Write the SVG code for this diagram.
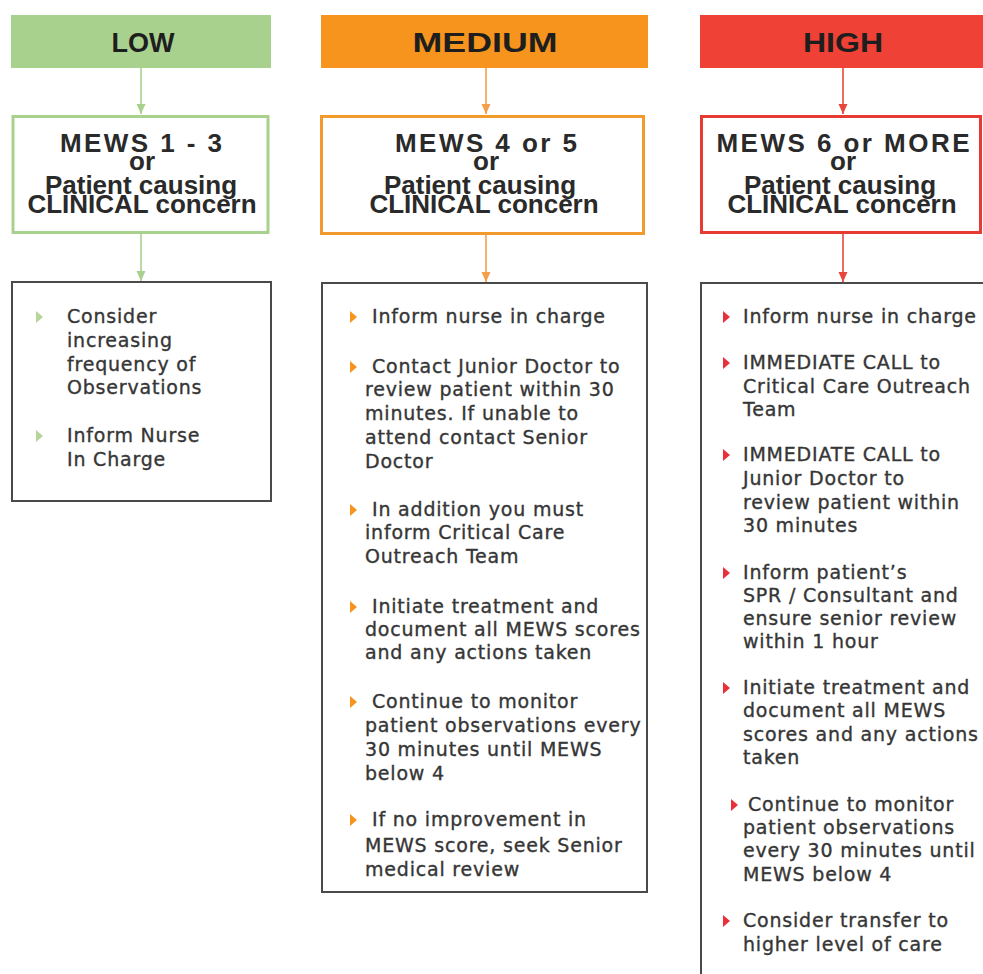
<svg xmlns="http://www.w3.org/2000/svg" width="983" height="974" viewBox="0 0 983 974">
<style>
.hdr{font-family:"Liberation Sans",Arial,sans-serif;font-weight:bold;font-size:27px;fill:#1e1e1e;text-anchor:middle}
.mews{font-family:"Liberation Sans",Arial,sans-serif;font-weight:bold;font-size:26px;fill:#2a2a2a;text-anchor:middle}
.act{font-family:"DejaVu Sans",Verdana,sans-serif;font-size:19px;letter-spacing:0.8px;fill:#363636;stroke:#363636;stroke-width:0.35px}
.box{fill:#fff;stroke:#4a4a4a;stroke-width:2}
.g-fill{fill:#a9d18e}.o-fill{fill:#f7941d}.r-fill{fill:#ef4136}
.g-str{fill:#fff;stroke:#a9d18e;stroke-width:3}
.o-str{fill:#fff;stroke:#f39a2c;stroke-width:3}
.r-str{fill:#fff;stroke:#e53b33;stroke-width:3}
.cg{stroke:#a9d18e;stroke-width:1.6;fill:none}
.co{stroke:#f4a04a;stroke-width:1.6;fill:none}
.cr{stroke:#e8473f;stroke-width:1.6;fill:none}
.bg{fill:#b5d59b}.bo{fill:#f7941d}.br{fill:#e8303a}
</style>
<defs>
<marker id="ag" markerUnits="userSpaceOnUse" markerWidth="10" markerHeight="10" refX="10" refY="4.5" orient="auto"><path d="M0,0 L10,4.5 L0,9 z" fill="#a9d18e"/></marker>
<marker id="ao" markerUnits="userSpaceOnUse" markerWidth="10" markerHeight="10" refX="10" refY="4.5" orient="auto"><path d="M0,0 L10,4.5 L0,9 z" fill="#f4a04a"/></marker>
<marker id="ar" markerUnits="userSpaceOnUse" markerWidth="10" markerHeight="10" refX="10" refY="4.5" orient="auto"><path d="M0,0 L10,4.5 L0,9 z" fill="#e8473f"/></marker>
<path id="tri" d="M0,-6 L7,0 L0,6 z"/>
</defs>

<g id="connectors">
<line class="cg" x1="141" y1="68" x2="141" y2="114" marker-end="url(#ag)"/>
<line class="cg" x1="141" y1="234" x2="141" y2="281" marker-end="url(#ag)"/>
<line class="co" x1="486" y1="68" x2="486" y2="114" marker-end="url(#ao)"/>
<line class="co" x1="486" y1="235" x2="486" y2="282" marker-end="url(#ao)"/>
<line class="cr" x1="843" y1="68" x2="843" y2="114" marker-end="url(#ar)"/>
<line class="cr" x1="843" y1="234" x2="843" y2="282" marker-end="url(#ar)"/>
</g>

<g id="header-low">
<rect class="g-fill" x="11" y="15" width="260" height="53"/>
<text class="hdr" x="143" y="52" textLength="63" lengthAdjust="spacingAndGlyphs">LOW</text>
</g>
<g id="header-medium">
<rect class="o-fill" x="321" y="15" width="327" height="53"/>
<text class="hdr" x="485" y="52" textLength="145" lengthAdjust="spacingAndGlyphs">MEDIUM</text>
</g>
<g id="header-high">
<rect class="r-fill" x="700" y="15" width="290" height="53"/>
<text class="hdr" x="843" y="52" textLength="80" lengthAdjust="spacingAndGlyphs">HIGH</text>
</g>

<g id="mews-low">
<rect class="g-str" x="13" y="116.5" width="255" height="116"/>
<text class="mews"><tspan x="141" y="152" textLength="162">MEWS 1 - 3</tspan><tspan x="142" y="170">or</tspan><tspan x="141" y="194">Patient causing</tspan><tspan x="142" y="213">CLINICAL concern</tspan></text>
</g>
<g id="mews-medium">
<rect class="o-str" x="321.5" y="116.5" width="322" height="117"/>
<text class="mews"><tspan x="486" y="152" textLength="182">MEWS 4 or 5</tspan><tspan x="486" y="170">or</tspan><tspan x="480" y="194">Patient causing</tspan><tspan x="484" y="213">CLINICAL concern</tspan></text>
</g>
<g id="mews-high">
<rect class="r-str" x="701.5" y="116.5" width="279" height="116"/>
<text class="mews"><tspan x="843" y="152" textLength="253">MEWS 6 or MORE</tspan><tspan x="843" y="170">or</tspan><tspan x="840" y="194">Patient causing</tspan><tspan x="842" y="213">CLINICAL concern</tspan></text>
</g>

<g id="actions-low">
<rect class="box" x="12" y="282" width="259" height="219"/>
<use href="#tri" class="bg" x="36" y="317"/>
<use href="#tri" class="bg" x="36" y="436"/>
<text class="act"><tspan x="67" y="323">Consider</tspan><tspan x="67" y="347">increasing</tspan><tspan x="67" y="371">frequency of</tspan><tspan x="67" y="394">Observations</tspan><tspan x="67" y="442">Inform Nurse</tspan><tspan x="67" y="466">In Charge</tspan></text>
</g>

<g id="actions-medium">
<rect class="box" x="322" y="283" width="325" height="609"/>
<use href="#tri" class="bo" x="350" y="317"/>
<use href="#tri" class="bo" x="350" y="367"/>
<use href="#tri" class="bo" x="350" y="510"/>
<use href="#tri" class="bo" x="350" y="607"/>
<use href="#tri" class="bo" x="350" y="702"/>
<use href="#tri" class="bo" x="350" y="820"/>
<text class="act">
<tspan x="372" y="323">Inform nurse in charge</tspan>
<tspan x="372" y="373">Contact Junior Doctor to</tspan><tspan x="365" y="396">review patient within 30</tspan><tspan x="365" y="420">minutes. If unable to</tspan><tspan x="365" y="444">attend contact Senior</tspan><tspan x="365" y="468">Doctor</tspan>
<tspan x="372" y="516">In addition you must</tspan><tspan x="365" y="539">inform Critical Care</tspan><tspan x="365" y="563">Outreach Team</tspan>
<tspan x="372" y="613">Initiate treatment and</tspan><tspan x="365" y="636">document all MEWS scores</tspan><tspan x="365" y="659">and any actions taken</tspan>
<tspan x="372" y="708">Continue to monitor</tspan><tspan x="365" y="732">patient observations every</tspan><tspan x="365" y="756">30 minutes until MEWS</tspan><tspan x="365" y="780">below 4</tspan>
<tspan x="372" y="826">If no improvement in</tspan><tspan x="365" y="852">MEWS score, seek Senior</tspan><tspan x="365" y="876">medical review</tspan>
</text>
</g>

<g id="actions-high">
<rect class="box" x="701" y="283" width="300" height="720"/>
<use href="#tri" class="br" x="723" y="317"/>
<use href="#tri" class="br" x="723" y="363"/>
<use href="#tri" class="br" x="723" y="455"/>
<use href="#tri" class="br" x="723" y="573"/>
<use href="#tri" class="br" x="723" y="688"/>
<use href="#tri" class="br" x="731" y="805"/>
<use href="#tri" class="br" x="723" y="921"/>
<text class="act">
<tspan x="743" y="323">Inform nurse in charge</tspan>
<tspan x="743" y="369">IMMEDIATE CALL to</tspan><tspan x="743" y="393">Critical Care Outreach</tspan><tspan x="743" y="416">Team</tspan>
<tspan x="743" y="461">IMMEDIATE CALL to</tspan><tspan x="743" y="485">Junior Doctor to</tspan><tspan x="743" y="509">review patient within</tspan><tspan x="743" y="532">30 minutes</tspan>
<tspan x="743" y="579">Inform patient’s</tspan><tspan x="743" y="602">SPR / Consultant and</tspan><tspan x="743" y="625">ensure senior review</tspan><tspan x="743" y="648">within 1 hour</tspan>
<tspan x="743" y="694">Initiate treatment and</tspan><tspan x="743" y="717">document all MEWS</tspan><tspan x="743" y="741">scores and any actions</tspan><tspan x="743" y="764">taken</tspan>
<tspan x="748" y="811">Continue to monitor</tspan><tspan x="743" y="834">patient observations</tspan><tspan x="743" y="857">every 30 minutes until</tspan><tspan x="743" y="881">MEWS below 4</tspan>
<tspan x="743" y="927">Consider transfer to</tspan><tspan x="743" y="951">higher level of care</tspan>
</text>
</g>
</svg>
